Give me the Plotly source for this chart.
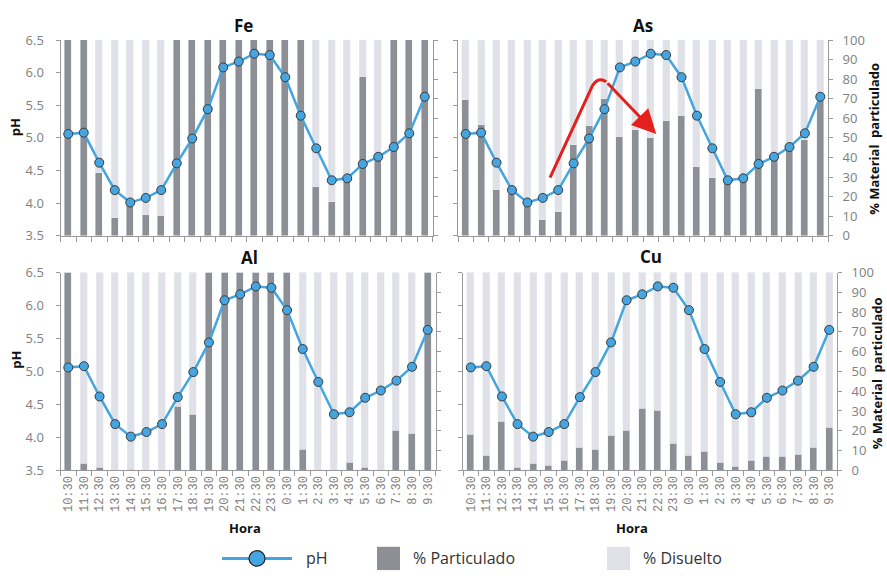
import plotly.graph_objects as go

# Sampling hours (24 h cycle)
horas = ["10:30", "11:30", "12:30", "13:30", "14:30", "15:30", "16:30", "17:30",
         "18:30", "19:30", "20:30", "21:30", "22:30", "23:30", "0:30", "1:30",
         "2:30", "3:30", "4:30", "5:30", "6:30", "7:30", "8:30", "9:30"]

# pH measured at each hour (same series in every panel)
ph = [5.06, 5.08, 4.62, 4.20, 4.01, 4.08, 4.20, 4.61, 4.99, 5.44, 6.08, 6.17,
      6.29, 6.27, 5.93, 5.34, 4.84, 4.35, 4.38, 4.60, 4.71, 4.86, 5.07, 5.63]

# % of each metal in particulate form
fe_part = [100, 100, 32, 9, 18, 10.5, 10, 100, 100, 100, 100, 100,
           100, 100, 100, 100, 25, 17, 28, 81, 40, 100, 100, 100]
as_part = [69.5, 56.5, 23.5, 21.5, 19, 8, 12, 46.5, 56, 70, 50.5, 54,
           50, 58.5, 61, 35, 29.5, 28.5, 30, 75, 40, 44.5, 49, 70]
al_part = [100, 3.5, 1.3, 0, 0.5, 0, 0, 32.4, 28, 100, 100, 100,
           100, 100, 100, 10.3, 0, 0, 3.9, 1.3, 0, 20, 18.4, 100]
cu_part = [18.2, 7.5, 24.8, 1.5, 3.4, 2.6, 5.1, 11.3, 10.5, 17.7, 20.3, 31.2,
           30, 13.3, 7.2, 9.2, 4.1, 2.1, 4.9, 6.9, 6.9, 7.7, 11.3, 21.5]

metales = ["Fe", "As", "Al", "Cu"]
particulado = [fe_part, as_part, al_part, cu_part]

W, H = 887, 581
C_PART = "#8c8f94"
C_DIS = "#e0e0e7"
C_PH = "#45a5e0"
C_AX = "#9a9a9a"
C_TICK = "#808080"
FONT = "Open Sans"

# panel boxes in pixels: (left, right, top, bottom)
boxes = [(60.5, 432.5, 32, 234), (458, 828, 32, 234),
         (60.5, 435.5, 272, 476), (463, 837, 272, 476)]

def px_x(v):
    return v / W

def px_y(v):
    return 1 - v / H

fig = go.Figure()
xs = list(range(len(horas)))

for k, (name, part) in enumerate(zip(metales, particulado)):
    xa = "x" if k == 0 else f"x{k + 1}"
    ya_pct = "y" if k == 0 else f"y{2 * k + 1}"
    ya_ph = f"y{2 * k + 2}"
    dis = [100 - p for p in part]
    fig.add_trace(go.Bar(x=xs, y=part, marker_color=C_PART, width=0.45,
                         xaxis=xa, yaxis=ya_pct, showlegend=False, name="% Particulado"))
    fig.add_trace(go.Bar(x=xs, y=dis, marker_color=C_DIS, width=0.45,
                         xaxis=xa, yaxis=ya_pct, showlegend=False, name="% Disuelto"))
    fig.add_trace(go.Scatter(x=xs, y=ph, mode="lines+markers", xaxis=xa, yaxis=ya_ph,
                             line=dict(color=C_PH, width=2.5),
                             marker=dict(size=9, color=C_PH, line=dict(color="#3a3a3a", width=1)),
                             showlegend=False, name="pH"))

    l, r, t, b = boxes[k]
    bottom_row = k >= 2
    left_col = k % 2 == 0
    xkey = "xaxis" if k == 0 else f"xaxis{k + 1}"
    ykey_pct = "yaxis" if k == 0 else f"yaxis{2 * k + 1}"
    ykey_ph = f"yaxis{2 * k + 2}"

    fig.layout[xkey] = dict(
        domain=[px_x(l), px_x(r)], anchor=ya_pct, range=[-0.5, len(horas) - 0.5],
        showline=True, linecolor=C_AX, linewidth=1, showgrid=False, zeroline=False,
        tickmode="array", tickvals=xs, ticktext=horas, ticks="",
        showticklabels=bottom_row, tickangle=-90,
        tickfont=dict(family="Liberation Mono", size=12, color=C_TICK),
        minor=dict(tickmode="array", tickvals=[i - 0.5 for i in range(len(horas) + 1)],
                   ticks="outside", ticklen=5, tickcolor=C_AX, tickwidth=1),
    )
    fig.layout[ykey_pct] = dict(
        domain=[px_y(b), px_y(t)], anchor=xa, side="right", range=[0, 100],
        tickmode="linear", tick0=0, dtick=10, showline=True, linecolor=C_AX,
        ticks="outside", ticklen=4, tickcolor=C_AX, showgrid=False, zeroline=False,
        showticklabels=not left_col, ticklabelstandoff=7,
        tickfont=dict(family=FONT, size=13, color=C_TICK),
    )
    fig.layout[ykey_ph] = dict(
        overlaying=ya_pct, anchor=xa, side="left", range=[3.5, 6.5],
        tickmode="array", tickvals=[3.5, 4.0, 4.5, 5.0, 5.5, 6.0, 6.5],
        ticktext=["3.5", "4.0", "4.5", "5.0", "5.5", "6.0", "6.5"],
        showline=True, linecolor=C_AX, ticks="outside", ticklen=4, tickcolor=C_AX,
        showgrid=False, zeroline=False, showticklabels=left_col, ticklabelstandoff=9,
        tickfont=dict(family=FONT, size=13, color=C_TICK),
    )

annotations = []
# panel titles
for name, (cx, cy) in zip(metales, [(244, 17), (643, 17), (249, 256), (651, 255)]):
    annotations.append(dict(text=f"<b>{name}</b>", x=px_x(cx), y=px_y(cy), xref="paper", yref="paper",
                            showarrow=False, font=dict(family=FONT, size=17, color="#111111"),
                            xanchor="center", yanchor="middle"))
# axis titles
for cx, cy in [(15, 122), (16, 362)]:
    annotations.append(dict(text="<b>pH</b>", x=px_x(cx), y=px_y(cy), xref="paper", yref="paper",
                            showarrow=False, textangle=-90, font=dict(family=FONT, size=13, color="#111111"),
                            xanchor="center", yanchor="middle"))
for cx, cy in [(874, 134), (877, 376)]:
    annotations.append(dict(text="<b>% Material  particulado</b>", x=px_x(cx), y=px_y(cy),
                            xref="paper", yref="paper", showarrow=False, textangle=-90,
                            font=dict(family=FONT, size=13, color="#111111"),
                            xanchor="center", yanchor="middle"))
for cx in [245, 632]:
    annotations.append(dict(text="<b>Hora</b>", x=px_x(cx), y=px_y(536), xref="paper", yref="paper",
                            showarrow=False, font=dict(family=FONT, size=13, color="#111111"),
                            xanchor="center", yanchor="middle"))

# legend
LY = 567
legend_items = [("pH", 304), ("% Particulado", 411), ("% Disuelto", 641)]
for txt, lx in legend_items:
    annotations.append(dict(text=txt, x=px_x(lx), y=px_y(LY), xref="paper", yref="paper",
                            showarrow=False, font=dict(family=FONT, size=16, color="#333333"),
                            xanchor="left", yanchor="middle"))

# red arrow in the As panel
annotations.append(dict(x=12.36, y=5.06, ax=9.11, ay=5.86, xref="x2", yref="y4",
                        axref="x2", ayref="y4", showarrow=True, arrowhead=2, arrowsize=1.6,
                        arrowwidth=3, arrowcolor="#e3201b", text="", standoff=0))

shapes = [
    dict(type="path", xref="x2", yref="y4",
         path="M 5.47,4.39 L 8.2,5.79 Q 8.59,5.95 9.11,5.86",
         line=dict(color="#e3201b", width=3)),
    dict(type="line", xref="paper", yref="paper", x0=px_x(222), x1=px_x(292),
         y0=px_y(LY), y1=px_y(LY), line=dict(color=C_PH, width=3)),
    dict(type="circle", xref="paper", yref="paper", x0=px_x(249), x1=px_x(265),
         y0=px_y(LY + 8), y1=px_y(LY - 8), fillcolor=C_PH, line=dict(color="#222222", width=1.2)),
    dict(type="rect", xref="paper", yref="paper", x0=px_x(377), x1=px_x(400),
         y0=px_y(579), y1=px_y(555), fillcolor=C_PART, line=dict(width=0)),
    dict(type="rect", xref="paper", yref="paper", x0=px_x(607), x1=px_x(630),
         y0=px_y(579), y1=px_y(555), fillcolor=C_DIS, line=dict(width=0)),
]

fig.update_layout(
    width=W, height=H, margin=dict(l=0, r=0, t=0, b=0),
    paper_bgcolor="white", plot_bgcolor="white", barmode="stack", bargap=0,
    annotations=annotations, shapes=shapes, showlegend=False,
    font=dict(family=FONT),
)

fig.write_html("out.html")
